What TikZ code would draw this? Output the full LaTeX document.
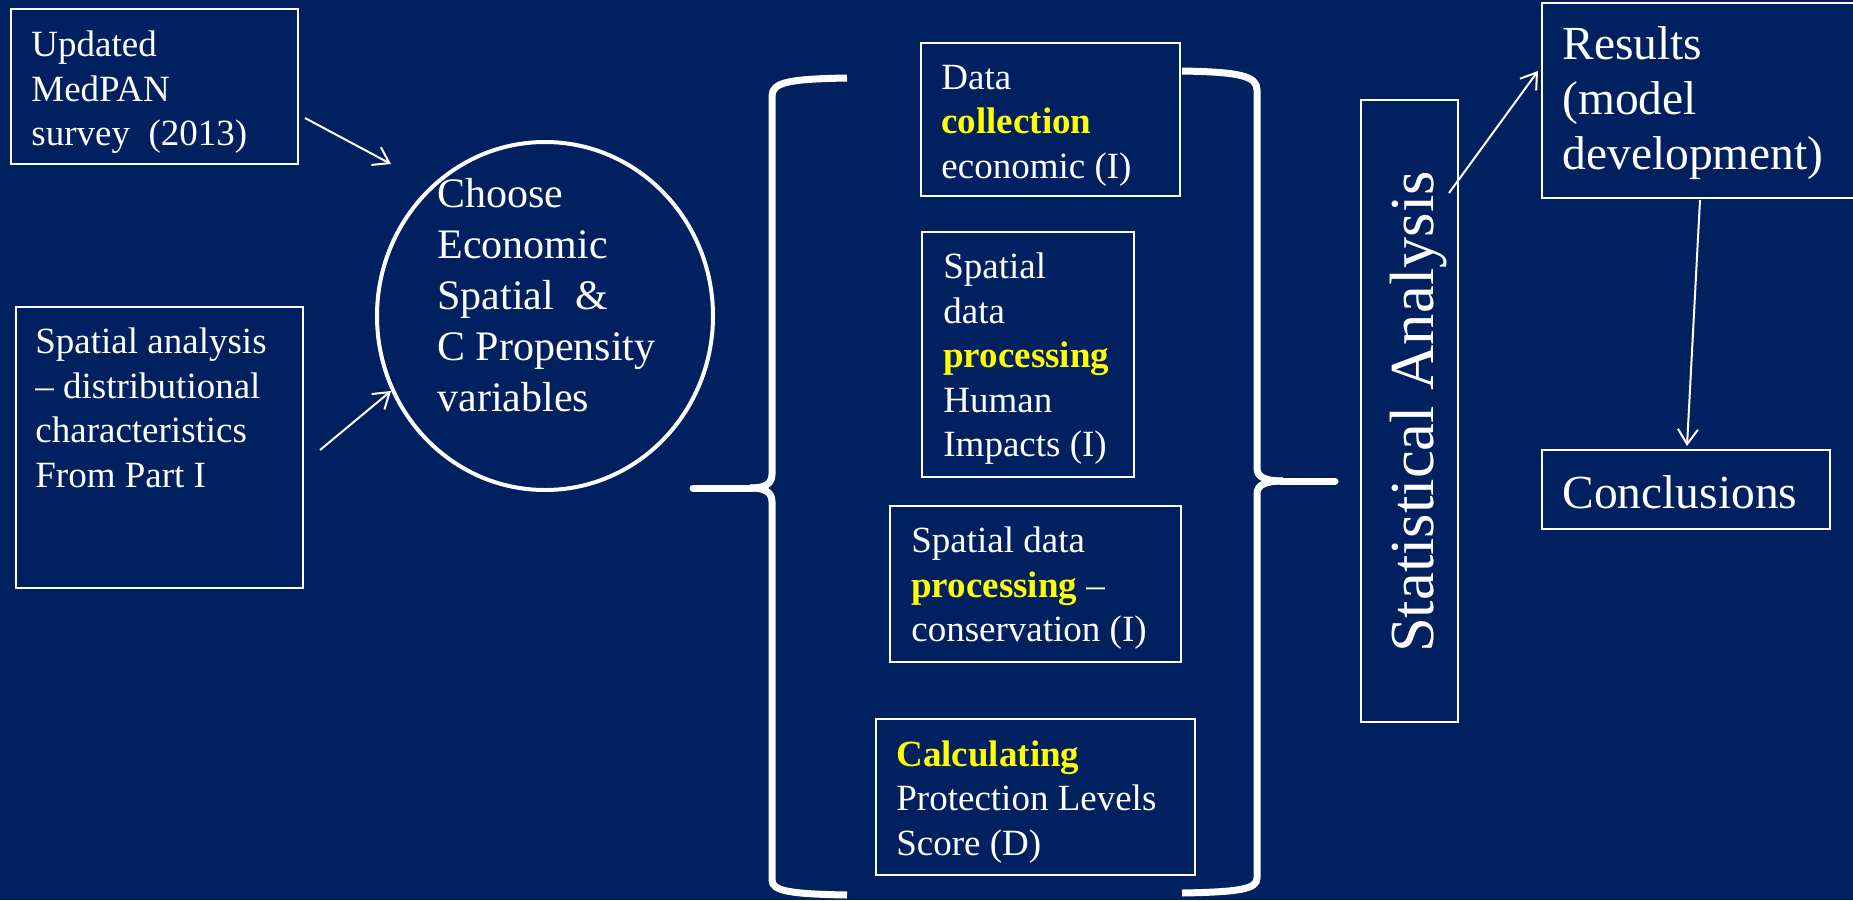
\documentclass[tikz,border=0pt]{standalone}
\usepackage{fontspec}
\setmainfont{Liberation Serif}
\usetikzlibrary{arrows.meta,shapes.geometric}
\definecolor{bg}{HTML}{002060}
\definecolor{hiyellow}{HTML}{FFFF00}
\newcommand{\hl}[1]{{\bfseries\color{hiyellow}#1}}
\begin{document}
\begin{tikzpicture}[x=0.5pt,y=-0.5pt,
  boxshape/.style={draw=white, line width=1pt, inner sep=0pt, rectangle},
  boxtext/.style={text=white, anchor=north west, inner sep=0pt, align=left,
     font=\fontsize{18.5pt}{22.25pt}\selectfont},
  bigtext/.style={text=white, inner sep=0pt, align=left,
     font=\fontsize{23.75pt}{27.5pt}\selectfont},
  arr/.style={draw=white, line width=1pt, -{Straight Barb[length=7.5pt,width=10pt]}},
  bracestyle/.style={draw=white, line width=3.5pt, line cap=butt},
  bracetip/.style={draw=white, line width=3.5pt, line cap=round}]
\fill[bg] (0,0) rectangle (1853,900);
\useasboundingbox (0,0) rectangle (1853,900);
\clip (0,0) rectangle (1853,900);

% left column
\node[boxshape, minimum width=143.5pt, minimum height=77.5pt] (box1) at (154.5,86.5) {};
\node[boxtext] (t1) at (31,30.7) {Updated\\MedPAN\\survey~ (2013)};
\node[boxshape, minimum width=143.5pt, minimum height=140.5pt] (box2) at (159.5,447.5) {};
\node[boxtext] (t2) at (35,327.7) {Spatial analysis\\– distributional\\characteristics\\From Part I};

% ellipse
\node[draw=white, line width=2pt, ellipse, minimum width=168pt, minimum height=174pt, inner sep=0pt] (choose) at (545,316) {};
\node[text=white, anchor=north west, inner sep=0pt, align=left,
      font=\fontsize{21pt}{25.4pt}\selectfont] (tE) at (437,178.3)
      {Choose\\Economic\\Spatial~ \&\\C Propensity\\variables};

% middle boxes
\node[boxshape, minimum width=129.5pt, minimum height=76.5pt] (boxA) at (1050.5,119.5) {};
\node[boxtext] (tA) at (941,64.5) {Data\\\hl{collection}\\economic (I)};
\node[boxshape, minimum width=106pt, minimum height=122.5pt] (boxB) at (1028,354.5) {};
\node[boxtext] (tB) at (943,252.7) {Spatial\\data\\\hl{processing}\\Human\\Impacts (I)};
\node[boxshape, minimum width=145.5pt, minimum height=78pt] (boxC) at (1035.5,584) {};
\node[boxtext] (tC) at (911,526.7) {Spatial data\\\hl{processing} –\\conservation (I)};
\node[boxshape, minimum width=159.5pt, minimum height=78pt] (boxD) at (1035.5,797) {};
\node[boxtext] (tD) at (896,740) {\hl{Calculating}\\Protection Levels\\Score (D)};

% braces
\draw[bracestyle] (847,78) .. controls (790,79) and (772,82) .. (772,96) -- (772,474)
   .. controls (772,484) and (765,488) .. (750,488);
\draw[bracestyle] (750,488) .. controls (765,488) and (772,492) .. (772,502) -- (772,880)
   .. controls (772,891) and (790,894) .. (847,895);
\draw[bracetip] (752,488) -- (693,488);
\draw[bracestyle] (1182,71) .. controls (1240,72) and (1257,76) .. (1257,90) -- (1257,468)
   .. controls (1257,477) and (1265,481) .. (1283,481);
\draw[bracestyle] (1283,481) .. controls (1265,481) and (1257,485) .. (1257,494) -- (1257,878)
   .. controls (1257,889) and (1240,892) .. (1182,893);
\draw[bracetip] (1281,481) -- (1335,481);

% statistical analysis
\node[boxshape, minimum width=48.5pt, minimum height=311pt] (stat) at (1409.5,411) {};
\node[text=white, rotate=90, anchor=base, inner sep=0pt,
      font=\fontsize{31.3pt}{37pt}\selectfont] (tS) at (1433,412) {Statistical Analysis};

% results and conclusions
\node[boxshape, minimum width=164pt, minimum height=97.5pt] (results) at (1706,100.5) {};
\node[bigtext, anchor=north west] (tR) at (1562,26.6) {Results\\(model\\development)};
\node[boxshape, minimum width=144pt, minimum height=39.5pt] (concl) at (1686,489.5) {};
\node[bigtext, anchor=base west] (tC2) at (1562,508) {Conclusions};

% arrows
\draw[arr] ([shift={(6,31.5)}]box1.east) -- ([shift={(16,-152)}]choose.west);
\draw[arr] ([shift={(16,2.5)}]box2.east) -- ([shift={(16,75)}]choose.west);
\draw[arr] ([shift={(-10,94)}]stat.north east) -- ([shift={(-3,-29.5)}]results.west);
\draw[arr] ([shift={(-6,1)}]results.south) -- ([shift={(1,-3)}]concl.north);
\end{tikzpicture}
\end{document}
